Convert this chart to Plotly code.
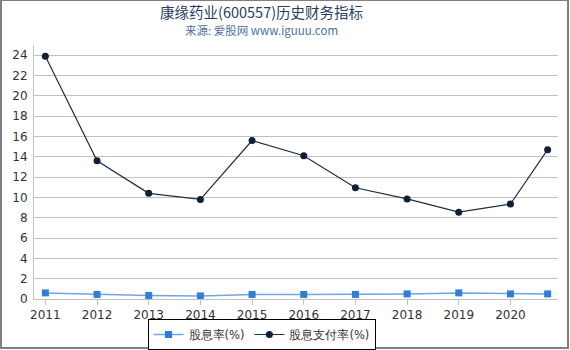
import plotly.graph_objects as go

years = [2011, 2012, 2013, 2014, 2015, 2016, 2017, 2018, 2019, 2020, 2020.72]
tick_years = [2011, 2012, 2013, 2014, 2015, 2016, 2017, 2018, 2019, 2020]
dividend_yield = [0.6, 0.45, 0.35, 0.3, 0.45, 0.45, 0.45, 0.5, 0.6, 0.5, 0.5]
payout_ratio = [23.9, 13.6, 10.4, 9.8, 15.6, 14.1, 10.95, 9.85, 8.55, 9.35, 14.7]

W, H = 570, 350
L, R, T, B = 34, 12, 45, 51
pw, ph = W - L - R, H - T - B

def px(x):
    return (x - L) / pw

def py(y):
    return (H - B - y) / ph

fig = go.Figure()
fig.add_trace(go.Scatter(
    x=years, y=dividend_yield, name="股息率(%)", mode="lines+markers",
    line=dict(color="#6ea6e6", width=1.5),
    marker=dict(symbol="square", size=7, color="#2f7ed8"),
))
fig.add_trace(go.Scatter(
    x=years, y=payout_ratio, name="股息支付率(%)", mode="lines+markers",
    line=dict(color="#1f2d44", width=1.2),
    marker=dict(symbol="circle", size=7, color="#0f1f36"),
))

fig.update_layout(
    width=W, height=H,
    margin=dict(l=L, r=R, t=T, b=B, autoexpand=False),
    paper_bgcolor="white", plot_bgcolor="white",
    font=dict(family="DejaVu Sans", size=12, color="#333333"),
    showlegend=True,
    legend=dict(orientation="h", x=px(261.5), xanchor="center", y=py(319), yanchor="top",
                bordercolor="#000000", borderwidth=1, font=dict(size=11.5, color="#333333"),
                itemwidth=30, tracegroupgap=0),
    xaxis=dict(range=[2010.78, 2020.92], tickvals=tick_years, ticktext=[str(t) for t in tick_years],
               showgrid=False, showline=True, linecolor="#c0c0c0", linewidth=1,
               ticks="outside", ticklen=5, tickcolor="#c0c0c0", zeroline=False,
               tickfont=dict(size=12, color="#333333")),
    yaxis=dict(range=[0, 25], dtick=2, showgrid=True, gridcolor="#c0c0c0", gridwidth=1,
               showline=True, linecolor="#c0c0c0", linewidth=1, zeroline=False,
               ticks="outside", ticklen=3, tickcolor="white",
               tickfont=dict(size=12, color="#333333")),
    annotations=[
        dict(text="康缘药业(600557)历史财务指标", x=px(261.5), y=py(11), xref="paper", yref="paper",
             xanchor="center", yanchor="middle",
             showarrow=False, font=dict(size=14.5, color="#2a3f5f", family="Noto Sans CJK SC")),
        dict(text="来源: 爱股网 www.iguuu.com", x=px(261.5), y=py(29.5), xref="paper", yref="paper",
             xanchor="center", yanchor="middle",
             showarrow=False, font=dict(size=11.5, color="#4e6f9a", family="Noto Sans CJK SC")),
    ],
    shapes=[
        dict(type="rect", xref="paper", yref="paper", x0=px(1), x1=px(W - 2), y0=py(H - 2), y1=py(0),
             line=dict(color="#808080", width=2), layer="below"),
    ],
)

fig.write_html("out.html")
